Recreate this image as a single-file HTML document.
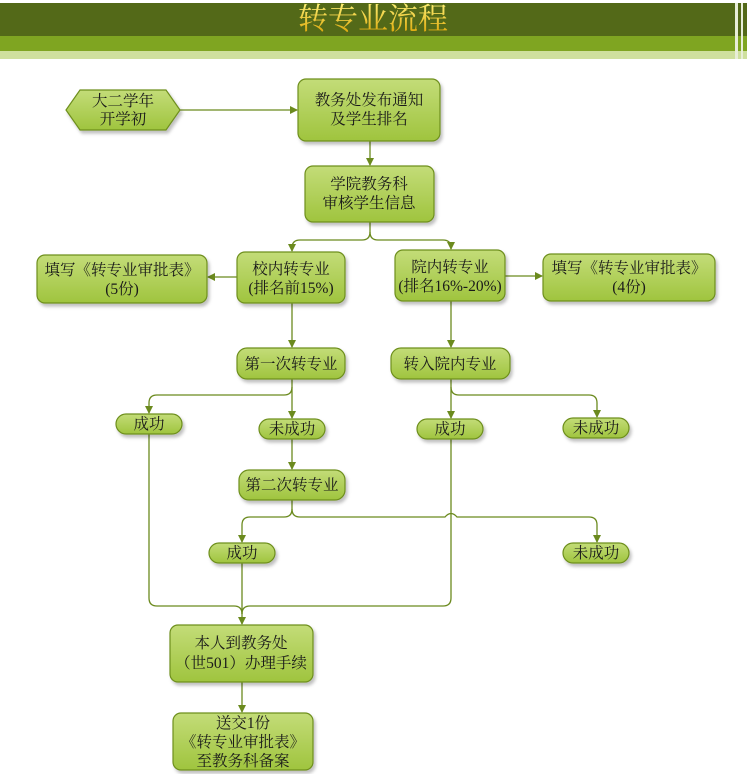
<!DOCTYPE html>
<html><head><meta charset="utf-8"><style>
body{margin:0;background:#fff;width:747px;height:774px;overflow:hidden}
svg{display:block}
text{font-family:"Liberation Serif","Noto Serif CJK SC","Noto Sans CJK SC",serif;font-size:15.5px;fill:#1a1a1a;text-anchor:middle}
</style></head><body>
<svg width="747" height="774" viewBox="0 0 747 774">
<defs>
<linearGradient id="g" x1="0" y1="0" x2="0" y2="1"><stop offset="0" stop-color="#c3dc78"/><stop offset="1" stop-color="#9fc43e"/></linearGradient>
<linearGradient id="gt" x1="0" y1="0" x2="0" y2="1"><stop offset="0" stop-color="#fff176"/><stop offset="1" stop-color="#d9a000"/></linearGradient>
<marker id="a" markerWidth="8" markerHeight="8" refX="7" refY="4" orient="auto" markerUnits="userSpaceOnUse"><path d="M0,0 L8,4 L0,8 z" fill="#6b8a1e"/></marker>
<filter id="s" x="-10%" y="-10%" width="130%" height="140%"><feDropShadow dx="2" dy="3" stdDeviation="1.5" flood-color="#000" flood-opacity="0.25"/></filter>
</defs>
<rect x="0" y="3" width="747" height="33" fill="#536918"/>
<rect x="0" y="36" width="747" height="15" fill="#7fa521"/>
<rect x="0" y="51" width="747" height="8" fill="#cfe09e"/>
<rect x="735" y="3" width="3" height="56" fill="#e8eed8"/><rect x="741" y="3" width="2" height="56" fill="#e8eed8"/>
<text x="373" y="29" style="font-size:30px;fill:url(#gt)">转专业流程</text>

<g fill="none" stroke="#6b8a1e" stroke-width="1.3">
<path d="M180,110 H297" marker-end="url(#a)"/>
<path d="M370,141 V165" marker-end="url(#a)"/>
<path d="M370,222 V232 Q370,240 362,240 H300 Q292,240 292,248 V251" marker-end="url(#a)"/>
<path d="M370,232 Q370,240 378,240 H443 Q451,240 451,248 V249" marker-end="url(#a)"/>
<path d="M237,277 H208" marker-end="url(#a)"/>
<path d="M505,276 H542" marker-end="url(#a)"/>
<path d="M292,303 V347" marker-end="url(#a)"/>
<path d="M451,301 V347" marker-end="url(#a)"/>
<path d="M292,379 V418" marker-end="url(#a)"/>
<path d="M292,387 Q292,395 284,395 H157 Q149,395 149,403 V413" marker-end="url(#a)"/>
<path d="M451,379 V418" marker-end="url(#a)"/>
<path d="M451,387 Q451,395 459,395 H589 Q597,395 597,403 V417" marker-end="url(#a)"/>
<path d="M292,439 V469" marker-end="url(#a)"/>
<path d="M292,500 V509 Q292,517 284,517 H250 Q242,517 242,525 V542" marker-end="url(#a)"/>
<path d="M292,509 Q292,517 300,517 H445 Q451,510 457,517 H589 Q597,517 597,525 V542" marker-end="url(#a)"/>
<path d="M149,434 V598 Q149,606 157,606 H234 Q242,606 242,614"/>
<path d="M451,439 V598 Q451,606 443,606 H250 Q242,606 242,614"/>
<path d="M242,563 V624" marker-end="url(#a)"/>
<path d="M242,682 V712" marker-end="url(#a)"/>
</g>

<g fill="url(#g)" stroke="#6e8f1e" stroke-width="1.2" filter="url(#s)">
<polygon points="80,90 166,90 180,110 166,130 80,130 66,110"/>
<rect x="298" y="79" width="142" height="62" rx="8"/>
<rect x="305" y="166" width="129" height="56" rx="8"/>
<rect x="237" y="252" width="108" height="51" rx="8"/>
<rect x="395" y="250" width="110" height="51" rx="8"/>
<rect x="37" y="255" width="170" height="48" rx="8"/>
<rect x="543" y="254" width="172" height="47" rx="8"/>
<rect x="237" y="348" width="108" height="31" rx="10"/>
<rect x="391" y="348" width="119" height="31" rx="10"/>
<rect x="116" y="414" width="66" height="20" rx="10"/>
<rect x="259" y="419" width="66" height="20" rx="10"/>
<rect x="417" y="419" width="66" height="20" rx="10"/>
<rect x="563" y="418" width="66" height="20" rx="10"/>
<rect x="239" y="470" width="106" height="30" rx="10"/>
<rect x="209" y="543" width="66" height="20" rx="10"/>
<rect x="563" y="543" width="66" height="20" rx="10"/>
<rect x="170" y="625" width="143" height="57" rx="8"/>
<rect x="173" y="713" width="140" height="57" rx="8"/>
</g>

<text x="123" y="106">大二学年</text><text x="123" y="124">开学初</text>
<text x="369" y="105">教务处发布通知</text><text x="369" y="124">及学生排名</text>
<text x="369" y="189">学院教务科</text><text x="369" y="208">审核学生信息</text>
<text x="291" y="274">校内转专业</text><text x="291" y="293">(排名前15%)</text>
<text x="450" y="272">院内转专业</text><text x="450" y="291">(排名16%-20%)</text>
<text x="122" y="275">填写《转专业审批表》</text><text x="122" y="294">(5份)</text>
<text x="629" y="273">填写《转专业审批表》</text><text x="629" y="292">(4份)</text>
<text x="291" y="369">第一次转专业</text>
<text x="450" y="369">转入院内专业</text>
<text x="149" y="429">成功</text>
<text x="292" y="434">未成功</text>
<text x="450" y="434">成功</text>
<text x="596" y="433">未成功</text>
<text x="292" y="490">第二次转专业</text>
<text x="242" y="558">成功</text>
<text x="596" y="558">未成功</text>
<text x="241" y="648">本人到教务处</text><text x="241" y="668">（世501）办理手续</text>
<text x="243" y="728">送交1份</text><text x="243" y="747">《转专业审批表》</text><text x="243" y="766">至教务科备案</text>
</svg>
</body></html>
